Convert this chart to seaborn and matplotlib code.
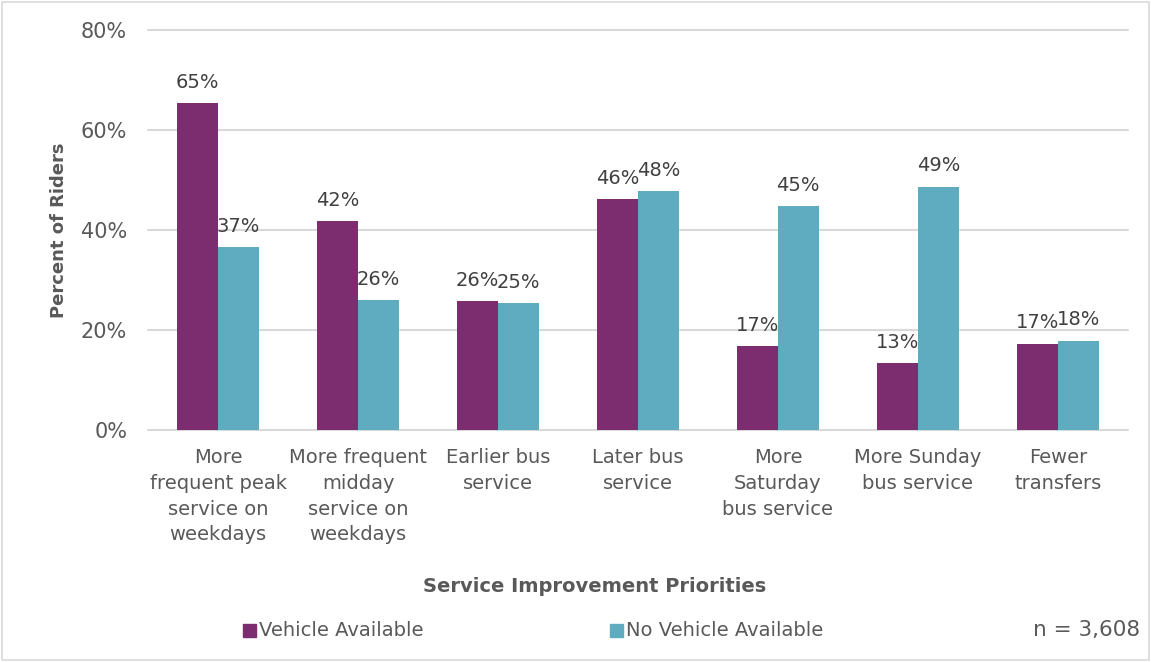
import matplotlib
matplotlib.use("Agg")
import matplotlib.pyplot as plt
import seaborn as sns
import pandas as pd
from matplotlib.patches import Rectangle

categories = [
    "More\nfrequent peak\nservice on\nweekdays",
    "More frequent\nmidday\nservice on\nweekdays",
    "Earlier bus\nservice",
    "Later bus\nservice",
    "More\nSaturday\nbus service",
    "More Sunday\nbus service",
    "Fewer\ntransfers",
]
series_names = ["Vehicle Available", "No Vehicle Available"]
vehicle = [65.4, 41.8, 25.8, 46.2, 16.8, 13.4, 17.3]
no_vehicle = [36.6, 26.0, 25.4, 47.8, 44.8, 48.7, 17.9]
y_ticks = [0, 20, 40, 60, 80]
sample_note = "n = 3,608"

colors = ["#7B2D6F", "#5FACC1"]
text_color = "#404040"
tick_color = "#595959"

df = pd.DataFrame({
    "category": categories * 2,
    "series": [series_names[0]] * len(categories) + [series_names[1]] * len(categories),
    "value": vehicle + no_vehicle,
})

sns.set_theme(style="white")
plt.rcParams["font.family"] = ["DejaVu Sans"]

W, H = 1151, 662
fig = plt.figure(figsize=(W / 100, H / 100), dpi=100)
ax = fig.add_axes([148 / W, 1 - 430 / H, (1128 - 148) / W, 400 / H])

sns.barplot(data=df, x="category", y="value", hue="series", order=categories,
            hue_order=series_names, palette=colors, width=0.58, saturation=1,
            errorbar=None, legend=False, ax=ax, linewidth=0)

ax.set_ylim(0, 80)
ax.set_yticks(y_ticks)
ax.set_yticklabels([f"{t}%" for t in y_ticks], fontsize=15, color=tick_color)
ax.set_xlim(-0.5, len(categories) - 0.5)
ax.tick_params(axis="x", labelsize=14, colors=tick_color, length=0, pad=13)
ax.tick_params(axis="y", length=0, pad=15)
for lbl in ax.get_xticklabels():
    lbl.set_linespacing(1.45)
    lbl.set_verticalalignment("top")
ax.grid(axis="y", color="#D9D9D9", linewidth=1.5)
for gl in ax.get_ygridlines():
    gl.set_clip_on(False)
ax.set_axisbelow(True)
for s in ax.spines.values():
    s.set_visible(False)

for cont, vals in zip(ax.containers, [vehicle, no_vehicle]):
    ax.bar_label(cont, labels=[f"{v:.0f}%" for v in vals], padding=8,
                 fontsize=14, color=text_color)

ax.set_xlabel("")
ax.set_ylabel("Percent of Riders", fontsize=13, fontweight="bold",
              color=tick_color)
ax.yaxis.set_label_coords(-0.082, 0.5)

fig.text(595 / W, 1 - 586 / H, "Service Improvement Priorities", ha="center",
         va="center", fontsize=14, fontweight="bold", color=tick_color)

# legend row
leg_y = 1 - 630 / H
for (x0, name, c) in [(243, series_names[0], colors[0]), (610, series_names[1], colors[1])]:
    fig.patches.append(Rectangle((x0 / W, leg_y - 7 / H), 13 / W, 13 / H,
                                 transform=fig.transFigure, color=c))
    fig.text((x0 + 16) / W, leg_y, name, ha="left", va="center",
             fontsize=14, color=tick_color)
fig.text(1140 / W, leg_y, sample_note, ha="right", va="center",
         fontsize=15.5, color=tick_color)

# outer chart frame
fig.patches.append(Rectangle((2 / W, 2 / H), (W - 4) / W, (H - 4) / H,
                             transform=fig.transFigure, fill=False,
                             edgecolor="#D9D9D9", linewidth=1.2))

fig.savefig("out.png", dpi=100)
